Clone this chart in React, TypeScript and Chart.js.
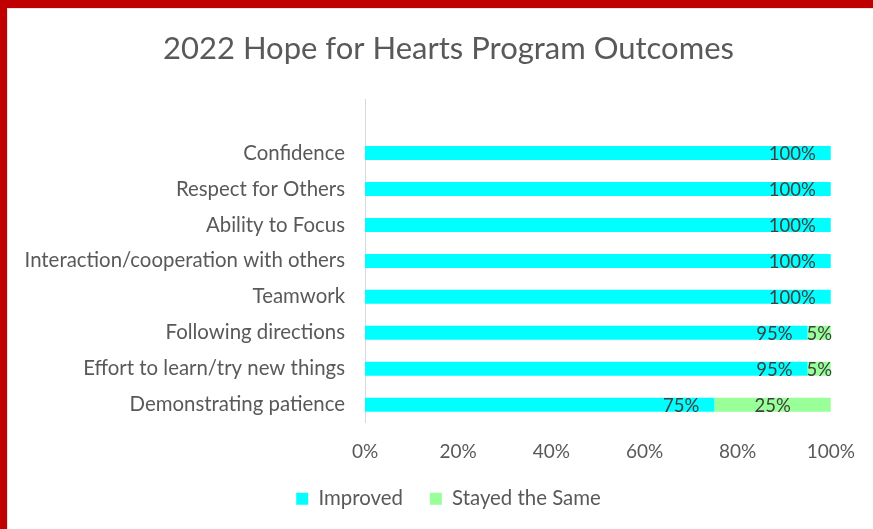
import React, { useEffect, useRef } from "react";
import { Chart, registerables } from "chart.js";

Chart.register(...registerables);

const TITLE = "2022 Hope for Hearts Program Outcomes";
const categories = [
  "",
  "Confidence",
  "Respect for Others",
  "Ability to Focus",
  "Interaction/cooperation with others",
  "Teamwork",
  "Following directions",
  "Effort to learn/try new things",
  "Demonstrating patience",
];
const improved = [null, 100, 100, 100, 100, 100, 95, 95, 75];
const stayedSame = [null, 0, 0, 0, 0, 0, 5, 5, 25];
const seriesNames = ["Improved", "Stayed the Same"];
const xTicks = [0, 20, 40, 60, 80, 100];

const FONT = "Lato";
const TEXT = "#595959";

const framePlugin = {
  id: "frame",
  afterLayout(chart: any) {
    // let tick labels use the space outside their axis boxes
    if (chart.scales.y) chart.scales.y.left = 8;
    if (chart.scales.x) chart.scales.x.bottom = chart.height;
  },
  beforeDraw(chart: any) {
    const { ctx, width, height } = chart;
    ctx.save();
    ctx.fillStyle = "#ffffff";
    ctx.fillRect(0, 0, width, height);
    ctx.fillStyle = "#c00000";
    ctx.fillRect(0, 0, width, 8);
    ctx.fillRect(0, 0, 7, height);
    ctx.fillStyle = "#e3e3e3";
    ctx.fillRect(7, 8, width - 7, 1);
    ctx.fillRect(7, 8, 1, height - 8);
    ctx.restore();
  },
};

const labelPlugin = {
  id: "barLabels",
  afterDatasetsDraw(chart: any) {
    const { ctx } = chart;
    ctx.save();
    ctx.font = `18.5px ${FONT}`;
    ctx.fillStyle = "#404040";
    ctx.textBaseline = "middle";
    chart.data.datasets.forEach((ds: any, di: number) => {
      const meta = chart.getDatasetMeta(di);
      meta.data.forEach((bar: any, i: number) => {
        const v = ds.data[i];
        if (v == null || v === 0) return;
        const text = `${v}%`;
        if (di === 0) {
          ctx.textAlign = "right";
          ctx.fillText(text, bar.x - 15, bar.y + 1);
        } else {
          ctx.textAlign = "center";
          ctx.fillText(text, (bar.x + bar.base) / 2, bar.y + 1);
        }
      });
    });
    ctx.restore();
  },
};

export default function App() {
  const ref = useRef<HTMLCanvasElement | null>(null);
  useEffect(() => {
    if (!ref.current) return;
    const chart = new Chart(ref.current, {
      type: "bar",
      data: {
        labels: categories,
        datasets: [
          {
            label: seriesNames[0],
            data: improved as any,
            backgroundColor: "#00ffff",
            categoryPercentage: 1,
            barPercentage: 0.39,
          },
          {
            label: seriesNames[1],
            data: stayedSame as any,
            backgroundColor: "#99ff99",
            categoryPercentage: 1,
            barPercentage: 0.39,
          },
        ],
      },
      options: {
        indexAxis: "y",
        responsive: false,
        animation: false,
        layout: { padding: { left: 63, right: 39, top: 0, bottom: 10 } },
        scales: {
          x: {
            stacked: true,
            min: 0,
            max: 100,
            afterBuildTicks: (scale: any) => {
              scale.ticks = xTicks.map((v) => ({ value: v }));
            },
            afterFit: (scale: any) => {
              scale.height = 39;
            },
            grid: { display: false, drawTicks: false },
            border: { display: false },
            ticks: {
              padding: 18,
              color: TEXT,
              font: { family: FONT, size: 19 },
              callback: (v: any) => `${v}%`,
            },
          },
          y: {
            stacked: true,
            grid: { display: false, drawTicks: false },
            border: { display: true, color: "#d9d9d9", width: 1 },
            afterFit: (scale: any) => {
              scale.width = 302;
            },
            ticks: {
              padding: 20,
              color: TEXT,
              font: { family: FONT, size: 20.4 },
            },
          },
        },
        plugins: {
          title: {
            display: true,
            text: TITLE,
            color: TEXT,
            font: { family: FONT, size: 31, weight: "normal" },
            padding: { top: 30, bottom: 32 },
          },
          legend: {
            position: "bottom",
            labels: {
              color: TEXT,
              font: { family: FONT, size: 20.4 },
              boxWidth: 12,
              boxHeight: 12,
              padding: 27,
            },
          },
          tooltip: { enabled: false },
        },
      },
      plugins: [framePlugin, labelPlugin],
    } as any);
    return () => chart.destroy();
  }, []);
  return (
    <div style={{ position: "absolute", left: 0, top: 0, width: 873, height: 529 }}>
      <canvas ref={ref} width={873} height={529} style={{ display: "block" }} />
    </div>
  );
}
